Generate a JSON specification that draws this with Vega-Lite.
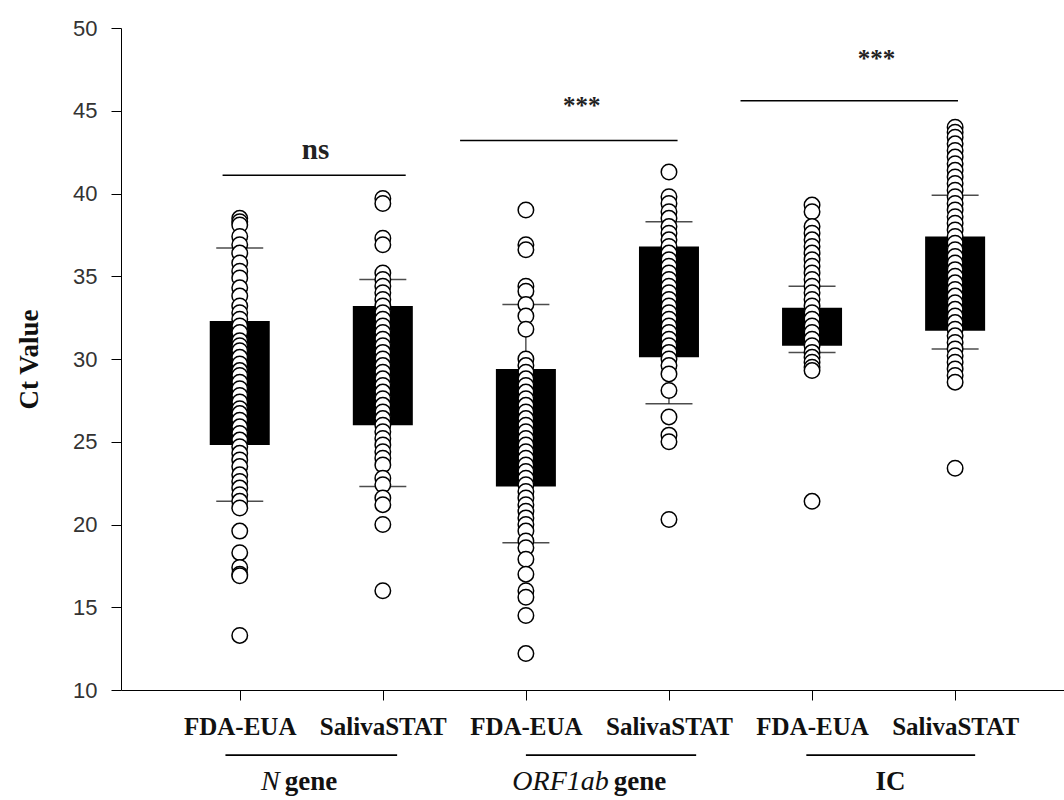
{
  "$schema": "https://vega.github.io/schema/vega-lite/v6.json",
  "autosize": {"type": "none"},
  "width": 943,
  "height": 662,
  "padding": {"left": 121, "top": 28, "right": 0, "bottom": 110},
  "background": "white",
  "config": {"view": {"stroke": null}},
  "datasets": {
    "boxes": [
      {"pos": 1, "q1": 24.8, "q3": 32.3, "lo": 21.4, "hi": 36.7},
      {"pos": 2, "q1": 26.0, "q3": 33.2, "lo": 22.3, "hi": 34.8},
      {"pos": 3, "q1": 22.3, "q3": 29.4, "lo": 18.9, "hi": 33.3},
      {"pos": 4, "q1": 30.1, "q3": 36.8, "lo": 27.3, "hi": 38.3},
      {"pos": 5, "q1": 30.8, "q3": 33.1, "lo": 30.4, "hi": 34.4},
      {"pos": 6, "q1": 31.7, "q3": 37.4, "lo": 30.6, "hi": 39.9}
    ],
    "pts": [
      {"pos":1,"v":38.5},{"pos":1,"v":38.3},{"pos":1,"v":38.1},{"pos":1,"v":37.4},{"pos":1,"v":36.9},{"pos":1,"v":36.4},{"pos":1,"v":35.8},{"pos":1,"v":35.3},{"pos":1,"v":34.9},{"pos":1,"v":34.3},{"pos":1,"v":33.8},{"pos":1,"v":33.2},{"pos":1,"v":32.8},{"pos":1,"v":32.4},{"pos":1,"v":32.0},{"pos":1,"v":31.6},{"pos":1,"v":31.1},{"pos":1,"v":30.8},{"pos":1,"v":30.5},{"pos":1,"v":30.1},{"pos":1,"v":29.7},{"pos":1,"v":29.3},{"pos":1,"v":29.0},{"pos":1,"v":28.6},{"pos":1,"v":28.2},{"pos":1,"v":27.8},{"pos":1,"v":27.4},{"pos":1,"v":27.0},{"pos":1,"v":26.7},{"pos":1,"v":26.3},{"pos":1,"v":25.9},{"pos":1,"v":25.5},{"pos":1,"v":25.1},{"pos":1,"v":24.7},{"pos":1,"v":24.3},{"pos":1,"v":23.9},{"pos":1,"v":23.5},{"pos":1,"v":23.0},{"pos":1,"v":22.6},{"pos":1,"v":22.2},{"pos":1,"v":21.8},{"pos":1,"v":21.4},{"pos":1,"v":21.0},{"pos":1,"v":19.6},{"pos":1,"v":18.3},{"pos":1,"v":17.4},{"pos":1,"v":17.0},{"pos":1,"v":16.9},{"pos":1,"v":13.3},
      {"pos":2,"v":39.7},{"pos":2,"v":39.4},{"pos":2,"v":37.3},{"pos":2,"v":36.9},{"pos":2,"v":35.2},{"pos":2,"v":34.8},{"pos":2,"v":34.4},{"pos":2,"v":34.0},{"pos":2,"v":33.6},{"pos":2,"v":33.2},{"pos":2,"v":32.8},{"pos":2,"v":32.4},{"pos":2,"v":32.0},{"pos":2,"v":31.6},{"pos":2,"v":31.2},{"pos":2,"v":30.8},{"pos":2,"v":30.4},{"pos":2,"v":30.0},{"pos":2,"v":29.6},{"pos":2,"v":29.2},{"pos":2,"v":28.8},{"pos":2,"v":28.4},{"pos":2,"v":28.0},{"pos":2,"v":27.6},{"pos":2,"v":27.2},{"pos":2,"v":26.8},{"pos":2,"v":26.4},{"pos":2,"v":26.0},{"pos":2,"v":25.6},{"pos":2,"v":25.2},{"pos":2,"v":24.8},{"pos":2,"v":24.4},{"pos":2,"v":24.0},{"pos":2,"v":23.6},{"pos":2,"v":22.8},{"pos":2,"v":22.4},{"pos":2,"v":21.6},{"pos":2,"v":21.2},{"pos":2,"v":20.0},{"pos":2,"v":16.0},
      {"pos":3,"v":39.0},{"pos":3,"v":36.9},{"pos":3,"v":36.6},{"pos":3,"v":34.4},{"pos":3,"v":34.1},{"pos":3,"v":33.3},{"pos":3,"v":32.6},{"pos":3,"v":31.8},{"pos":3,"v":30.0},{"pos":3,"v":29.6},{"pos":3,"v":29.2},{"pos":3,"v":28.8},{"pos":3,"v":28.4},{"pos":3,"v":28.0},{"pos":3,"v":27.6},{"pos":3,"v":27.2},{"pos":3,"v":26.8},{"pos":3,"v":26.4},{"pos":3,"v":26.0},{"pos":3,"v":25.6},{"pos":3,"v":25.2},{"pos":3,"v":24.8},{"pos":3,"v":24.4},{"pos":3,"v":24.0},{"pos":3,"v":23.6},{"pos":3,"v":23.2},{"pos":3,"v":22.8},{"pos":3,"v":22.4},{"pos":3,"v":22.0},{"pos":3,"v":21.6},{"pos":3,"v":21.2},{"pos":3,"v":20.8},{"pos":3,"v":20.4},{"pos":3,"v":20.0},{"pos":3,"v":19.6},{"pos":3,"v":19.0},{"pos":3,"v":18.6},{"pos":3,"v":17.9},{"pos":3,"v":17.0},{"pos":3,"v":16.0},{"pos":3,"v":15.6},{"pos":3,"v":14.5},{"pos":3,"v":12.2},
      {"pos":4,"v":41.3},{"pos":4,"v":39.8},{"pos":4,"v":39.4},{"pos":4,"v":38.9},{"pos":4,"v":38.5},{"pos":4,"v":38.0},{"pos":4,"v":37.6},{"pos":4,"v":37.2},{"pos":4,"v":36.8},{"pos":4,"v":36.4},{"pos":4,"v":36.0},{"pos":4,"v":35.6},{"pos":4,"v":35.2},{"pos":4,"v":34.8},{"pos":4,"v":34.4},{"pos":4,"v":34.0},{"pos":4,"v":33.6},{"pos":4,"v":33.2},{"pos":4,"v":32.8},{"pos":4,"v":32.4},{"pos":4,"v":32.0},{"pos":4,"v":31.6},{"pos":4,"v":31.2},{"pos":4,"v":30.8},{"pos":4,"v":30.4},{"pos":4,"v":30.0},{"pos":4,"v":29.6},{"pos":4,"v":29.1},{"pos":4,"v":28.1},{"pos":4,"v":26.5},{"pos":4,"v":25.4},{"pos":4,"v":25.0},{"pos":4,"v":20.3},
      {"pos":5,"v":39.3},{"pos":5,"v":38.9},{"pos":5,"v":38.0},{"pos":5,"v":37.6},{"pos":5,"v":37.2},{"pos":5,"v":36.8},{"pos":5,"v":36.4},{"pos":5,"v":36.0},{"pos":5,"v":35.6},{"pos":5,"v":35.2},{"pos":5,"v":34.8},{"pos":5,"v":34.4},{"pos":5,"v":34.0},{"pos":5,"v":33.6},{"pos":5,"v":33.2},{"pos":5,"v":32.8},{"pos":5,"v":32.4},{"pos":5,"v":32.0},{"pos":5,"v":31.6},{"pos":5,"v":31.2},{"pos":5,"v":30.8},{"pos":5,"v":30.4},{"pos":5,"v":30.1},{"pos":5,"v":29.8},{"pos":5,"v":29.5},{"pos":5,"v":29.3},{"pos":5,"v":21.4},
      {"pos":6,"v":44.0},{"pos":6,"v":43.7},{"pos":6,"v":43.4},{"pos":6,"v":43.0},{"pos":6,"v":42.6},{"pos":6,"v":42.2},{"pos":6,"v":41.8},{"pos":6,"v":41.4},{"pos":6,"v":41.0},{"pos":6,"v":40.6},{"pos":6,"v":40.2},{"pos":6,"v":39.8},{"pos":6,"v":39.4},{"pos":6,"v":39.0},{"pos":6,"v":38.6},{"pos":6,"v":38.2},{"pos":6,"v":37.8},{"pos":6,"v":37.4},{"pos":6,"v":37.0},{"pos":6,"v":36.6},{"pos":6,"v":36.2},{"pos":6,"v":35.8},{"pos":6,"v":35.4},{"pos":6,"v":35.0},{"pos":6,"v":34.6},{"pos":6,"v":34.2},{"pos":6,"v":33.8},{"pos":6,"v":33.4},{"pos":6,"v":33.0},{"pos":6,"v":32.6},{"pos":6,"v":32.2},{"pos":6,"v":31.8},{"pos":6,"v":31.4},{"pos":6,"v":31.0},{"pos":6,"v":30.6},{"pos":6,"v":30.2},{"pos":6,"v":29.8},{"pos":6,"v":29.4},{"pos":6,"v":29.0},{"pos":6,"v":28.6},{"pos":6,"v":23.4}
    ],
    "sig": [
      {"from": 0.88, "to": 2.16, "y": 41.1, "tx": 1.53, "ty": 42.6, "label": "ns", "size": 29},
      {"from": 2.54, "to": 4.06, "y": 43.2, "tx": 3.39, "ty": 45.3, "label": "***", "size": 25},
      {"from": 4.5, "to": 6.02, "y": 45.6, "tx": 5.45, "ty": 48.1, "label": "***", "size": 25}
    ],
    "groups": [
      {"from": 0.9, "to": 2.1, "y": 6.07, "tx": 1.3, "ty": 3.96, "it": "N", "rest": "gene"},
      {"from": 3.0, "to": 4.19, "y": 6.07, "tx": 3.6, "ty": 3.96, "it": "ORF1ab", "rest": "gene"},
      {"from": 4.96, "to": 6.14, "y": 6.07, "tx": 5.43, "ty": 3.96, "it": "", "rest": "IC"}
    ]
  },
  "layer": [
    {
      "data": {"name": "boxes"},
      "mark": {"type": "rule", "color": "black", "strokeWidth": 1},
      "encoding": {
        "x": {"field": "pos", "type": "quantitative",
              "scale": {"domain": [0.205, 6.726], "nice": false, "zero": false},
              "axis": {"title": null, "values": [1, 2, 3, 4, 5, 6], "grid": false,
                       "labelExpr": "datum.value % 2 == 1 ? 'FDA-EUA' : 'SalivaSTAT'",
                       "tickSize": 10, "tickColor": "black", "domainColor": "black",
                       "labelFont": "Liberation Serif", "labelFontWeight": "bold",
                       "labelFontSize": 25, "labelColor": "#111", "labelPadding": 14}},
        "y": {"field": "lo", "type": "quantitative",
              "scale": {"domain": [10, 50], "nice": false, "zero": false},
              "axis": {"title": "Ct Value", "values": [10, 15, 20, 25, 30, 35, 40, 45, 50], "grid": false,
                       "tickSize": 10, "tickColor": "black", "domainColor": "black",
                       "labelFont": "Liberation Sans", "labelFontSize": 22, "labelColor": "#333",
                       "labelPadding": 14,
                       "titleFont": "Liberation Serif", "titleFontSize": 27, "titleFontWeight": "bold",
                       "titleColor": "#111", "titlePadding": 29}},
        "y2": {"field": "hi"}
      }
    },
    {
      "data": {"name": "boxes"},
      "mark": {"type": "tick", "orient": "horizontal", "size": 47, "thickness": 1.5, "color": "black"},
      "encoding": {
        "x": {"field": "pos", "type": "quantitative"},
        "y": {"field": "lo", "type": "quantitative"}
      }
    },
    {
      "data": {"name": "boxes"},
      "mark": {"type": "tick", "orient": "horizontal", "size": 47, "thickness": 1.5, "color": "black"},
      "encoding": {
        "x": {"field": "pos", "type": "quantitative"},
        "y": {"field": "hi", "type": "quantitative"}
      }
    },
    {
      "data": {"name": "boxes"},
      "mark": {"type": "bar", "size": 60, "color": "black"},
      "encoding": {
        "x": {"field": "pos", "type": "quantitative"},
        "y": {"field": "q1", "type": "quantitative"},
        "y2": {"field": "q3"}
      }
    },
    {
      "data": {"name": "pts"},
      "mark": {"type": "point", "shape": "circle", "size": 240, "filled": false, "fill": "white", "fillOpacity": 1, "stroke": "black", "strokeWidth": 1.5, "opacity": 1},
      "encoding": {
        "x": {"field": "pos", "type": "quantitative"},
        "y": {"field": "v", "type": "quantitative"}
      }
    },
    {
      "data": {"name": "sig"},
      "mark": {"type": "rule", "color": "black", "strokeWidth": 1.4},
      "encoding": {
        "x": {"field": "from", "type": "quantitative"},
        "x2": {"field": "to"},
        "y": {"field": "y", "type": "quantitative"}
      }
    },
    {
      "data": {"name": "sig"},
      "mark": {"type": "text", "font": "Liberation Serif", "fontWeight": "bold", "color": "#222", "baseline": "middle", "align": "center"},
      "encoding": {
        "x": {"field": "tx", "type": "quantitative"},
        "y": {"field": "ty", "type": "quantitative"},
        "text": {"field": "label"},
        "size": {"field": "size", "type": "quantitative", "scale": null}
      }
    },
    {
      "data": {"name": "groups"},
      "mark": {"type": "rule", "color": "black", "strokeWidth": 1.8},
      "encoding": {
        "x": {"field": "from", "type": "quantitative"},
        "x2": {"field": "to"},
        "y": {"field": "y", "type": "quantitative"}
      }
    },
    {
      "data": {"name": "groups"},
      "mark": {"type": "text", "font": "Liberation Serif", "fontStyle": "italic", "fontSize": 28, "color": "#111", "baseline": "alphabetic", "align": "right", "dx": -3},
      "encoding": {
        "x": {"field": "tx", "type": "quantitative"},
        "y": {"field": "ty", "type": "quantitative"},
        "text": {"field": "it"}
      }
    },
    {
      "data": {"name": "groups"},
      "mark": {"type": "text", "font": "Liberation Serif", "fontWeight": "bold", "fontSize": 27, "color": "#111", "baseline": "alphabetic", "align": "left", "dx": 2},
      "encoding": {
        "x": {"field": "tx", "type": "quantitative"},
        "y": {"field": "ty", "type": "quantitative"},
        "text": {"field": "rest"}
      }
    }
  ]
}
